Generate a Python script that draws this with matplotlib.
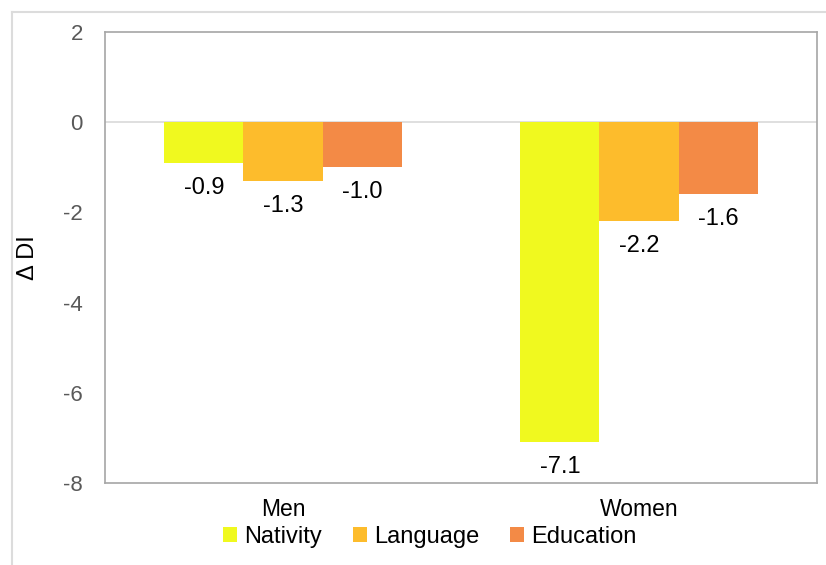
import numpy as np
from matplotlib import pyplot as plt
from matplotlib.lines import Line2D

plt.rcParams['font.family'] = ['Liberation Sans', 'DejaVu Sans']

# data
groups = ["Men", "Women"]
series = ["Nativity", "Language", "Education"]
nativity = [-0.9, -7.1]
language = [-1.3, -2.2]
education = [-1.0, -1.6]
colors = ["#F0F91F", "#FDBC2C", "#F38A46"]
yticks = [-8, -6, -4, -2, 0, 2]


def draw():
    fig = plt.figure(figsize=(8.26, 5.65), dpi=100)
    ax = fig.add_axes([105 / 826, 1 - 483 / 565, 712 / 826, 451 / 565])

    x = np.arange(len(groups))
    width = 0.222
    values = [nativity, language, education]
    for i, (name, vals, col) in enumerate(zip(series, values, colors)):
        bars = ax.bar(x + (i - 1) * width, vals, width, color=col, label=name, zorder=2)
        for b, v in zip(bars, vals):
            ax.annotate("%.1f" % v, (b.get_x() + b.get_width() / 2, v),
                        xytext=(0, -25), textcoords="offset pixels",
                        ha="center", va="center", fontsize=17, color="black")

    ax.axhline(0, color="#d9d9d9", lw=1.2, zorder=1)
    ax.set_xlim(-0.5, 1.5)
    ax.set_ylim(-8, 2)
    ax.set_yticks(yticks)
    ax.set_yticklabels([str(t) for t in yticks])
    ax.set_xticks(x)
    ax.set_xticklabels(groups)
    ax.tick_params(axis="y", length=0, pad=16, labelsize=16, labelcolor="#595959")
    ax.tick_params(axis="x", length=0, pad=11, labelsize=16.5, labelcolor="black")
    for s in ax.spines.values():
        s.set_color("#a6a6a6")
        s.set_linewidth(1.2)

    fig.text(28 / 826, 1 - 258 / 565, "\u0394 DI", rotation=90, fontsize=17,
             ha="center", va="center")

    fig.legend(loc="center", bbox_to_anchor=(430 / 826, 1 - 537 / 565), ncol=3,
               frameon=False, fontsize=17, handlelength=0.6, handleheight=0.6,
               handletextpad=0.3, columnspacing=1.3)

    # light outer border (top and left visible)
    fig.add_artist(Line2D([12 / 826, 12 / 826], [0, 1 - 12 / 565],
                          transform=fig.transFigure, color="#dcdcdc", lw=1.5))
    fig.add_artist(Line2D([12 / 826, 1], [1 - 12 / 565, 1 - 12 / 565],
                          transform=fig.transFigure, color="#dcdcdc", lw=1.5))

    plt.savefig("out.png", dpi=100)


if __name__ == '__main__':
    draw()
